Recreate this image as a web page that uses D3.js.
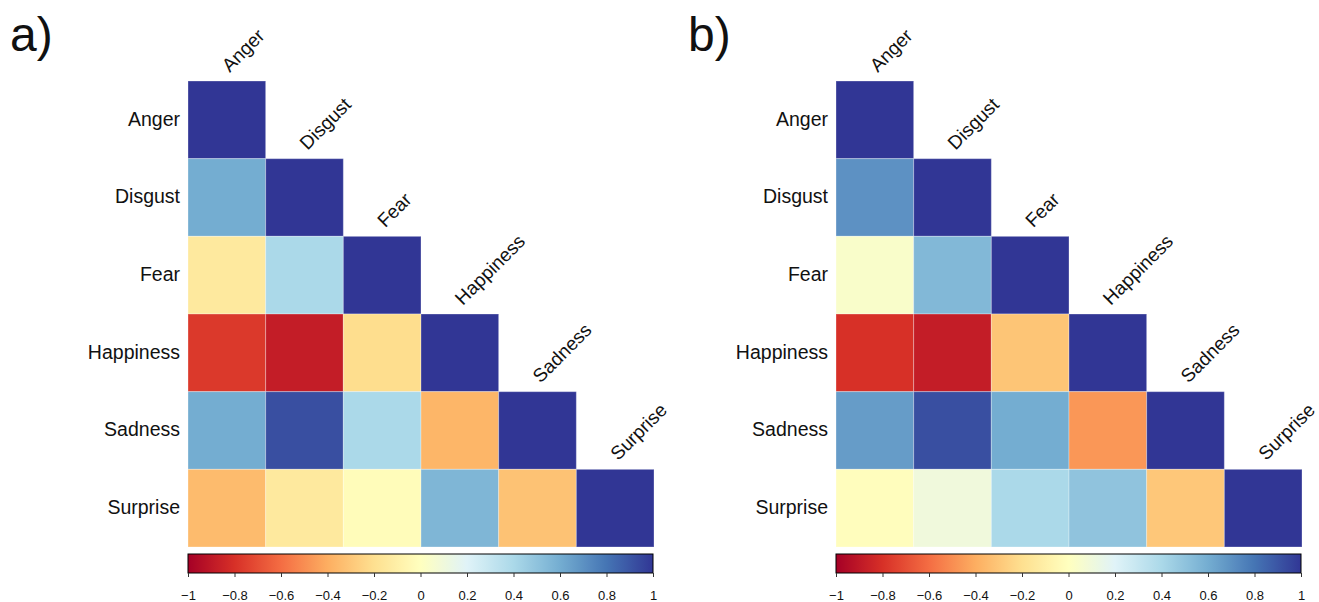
<!DOCTYPE html>
<html>
<head>
<meta charset="utf-8">
<script src="https://cdn.jsdelivr.net/npm/d3@7/dist/d3.min.js"></script>
<style>
  body { margin: 0; background: #fff; }
  text { font-family: "Liberation Sans", Arial, Helvetica, sans-serif; fill: #111; }
</style>
</head>
<body>
<svg id="chart" width="1319" height="602"></svg>
<script>
// emotion categories, same order on rows and columns
const emotions = ['Anger', 'Disgust', 'Fear', 'Happiness', 'Sadness', 'Surprise'];

// lower triangle of each correlation matrix (row i has i+1 values)
const corrA = [
  [1],
  [0.6, 1],
  [-0.14, 0.4, 1],
  [-0.77, -0.88, -0.21, 1],
  [0.6, 0.92, 0.4, -0.37, 1],
  [-0.35, -0.14, -0.02, 0.56, -0.32, 1]
];
const corrB = [
  [1],
  [0.7, 1],
  [0.04, 0.55, 1],
  [-0.8, -0.88, -0.31, 1],
  [0.66, 0.92, 0.6, -0.47, 1],
  [-0.01, 0.1, 0.4, 0.5, -0.3, 1]
];

const panelTitles = ['a)', 'b)'];
const legendTicks = [-1, -0.8, -0.6, -0.4, -0.2, 0, 0.2, 0.4, 0.6, 0.8, 1];

// RdYlBu, red for -1 and blue for +1
const rdylbu = ['#a50026', '#d73027', '#f46d43', '#fdae61', '#fee090', '#ffffbf',
  '#e0f3f8', '#abd9e9', '#74add1', '#4575b4', '#313695'];
const color = d3.scaleLinear()
  .domain(d3.range(rdylbu.length).map((i) => -1 + 2 * i / (rdylbu.length - 1)))
  .range(rdylbu)
  .interpolate(d3.interpolateRgb);

const svg = d3.select('#chart');
const defs = svg.append('defs');
const grad = defs.append('linearGradient').attr('id', 'cbar');
d3.range(0, 1.0001, 0.02).forEach((t) => {
  grad.append('stop').attr('offset', `${t * 100}%`).attr('stop-color', color(-1 + 2 * t));
});

function drawPanel(g, corr, title, titleX) {
  const gridLeft = 188;
  const gridTop = 81;
  const gridSize = 466;

  const x = d3.scaleBand().domain(emotions).range([gridLeft, gridLeft + gridSize]);
  const y = d3.scaleBand().domain(emotions).range([gridTop, gridTop + gridSize]);

  // panel letter
  g.append('text')
    .attr('x', titleX)
    .attr('y', 51)
    .style('font-size', '48px')
    .text(title);

  // cells
  const cells = [];
  corr.forEach((row, i) => row.forEach((v, j) => cells.push({ r: emotions[i], c: emotions[j], v })));
  g.selectAll('rect.cell')
    .data(cells)
    .enter()
    .append('rect')
    .attr('class', 'cell')
    .attr('x', (d) => x(d.c))
    .attr('y', (d) => y(d.r))
    .attr('width', x.bandwidth())
    .attr('height', y.bandwidth())
    .style('fill', (d) => color(d.v))
    .style('stroke', 'rgba(255,255,255,0.3)')
    .style('stroke-width', 1);

  // row labels
  g.selectAll('text.row')
    .data(emotions)
    .enter()
    .append('text')
    .attr('class', 'row')
    .attr('x', gridLeft - 8)
    .attr('y', (d) => y(d) + y.bandwidth() / 2 - 1)
    .attr('dy', '0.35em')
    .attr('text-anchor', 'end')
    .style('font-size', '19.5px')
    .text((d) => d);

  // column labels, rotated above the diagonal cell
  g.selectAll('text.col')
    .data(emotions)
    .enter()
    .append('text')
    .attr('class', 'col')
    .attr('transform', (d) => {
      const cx = x(d) + x.bandwidth() / 2 + 3;
      const cy = y(d) - 8;
      return `translate(${cx},${cy}) rotate(-45)`;
    })
    .style('font-size', '19px')
    .text((d) => d);

  // colour legend
  const barTop = 554;
  const barH = 19;
  const lx = d3.scaleLinear().domain([-1, 1]).range([gridLeft, gridLeft + gridSize - 1]);
  g.append('rect')
    .attr('x', lx(-1))
    .attr('y', barTop)
    .attr('width', lx(1) - lx(-1))
    .attr('height', barH)
    .style('fill', 'url(#cbar)')
    .style('stroke', '#000')
    .style('stroke-width', 1);

  const axis = d3.axisBottom(lx)
    .tickValues(legendTicks)
    .tickSize(4)
    .tickPadding(14)
    .tickFormat((d) => (d === 0 ? '0' : d3.format('')(d).replace('-', '\u2212')));
  const ax = g.append('g').attr('transform', `translate(0,${barTop + barH})`).call(axis);
  ax.select('.domain').remove();
  ax.selectAll('line').style('stroke', '#333');
  ax.selectAll('text')
    .style('font-size', '13px')
    .style('font-family', '"Liberation Sans", Arial, sans-serif')
    .style('fill', '#111');
}

drawPanel(svg.append('g'), corrA, panelTitles[0], 10);
drawPanel(svg.append('g').attr('transform', 'translate(648,0)'), corrB, panelTitles[1], 40);
</script>
</body>
</html>
